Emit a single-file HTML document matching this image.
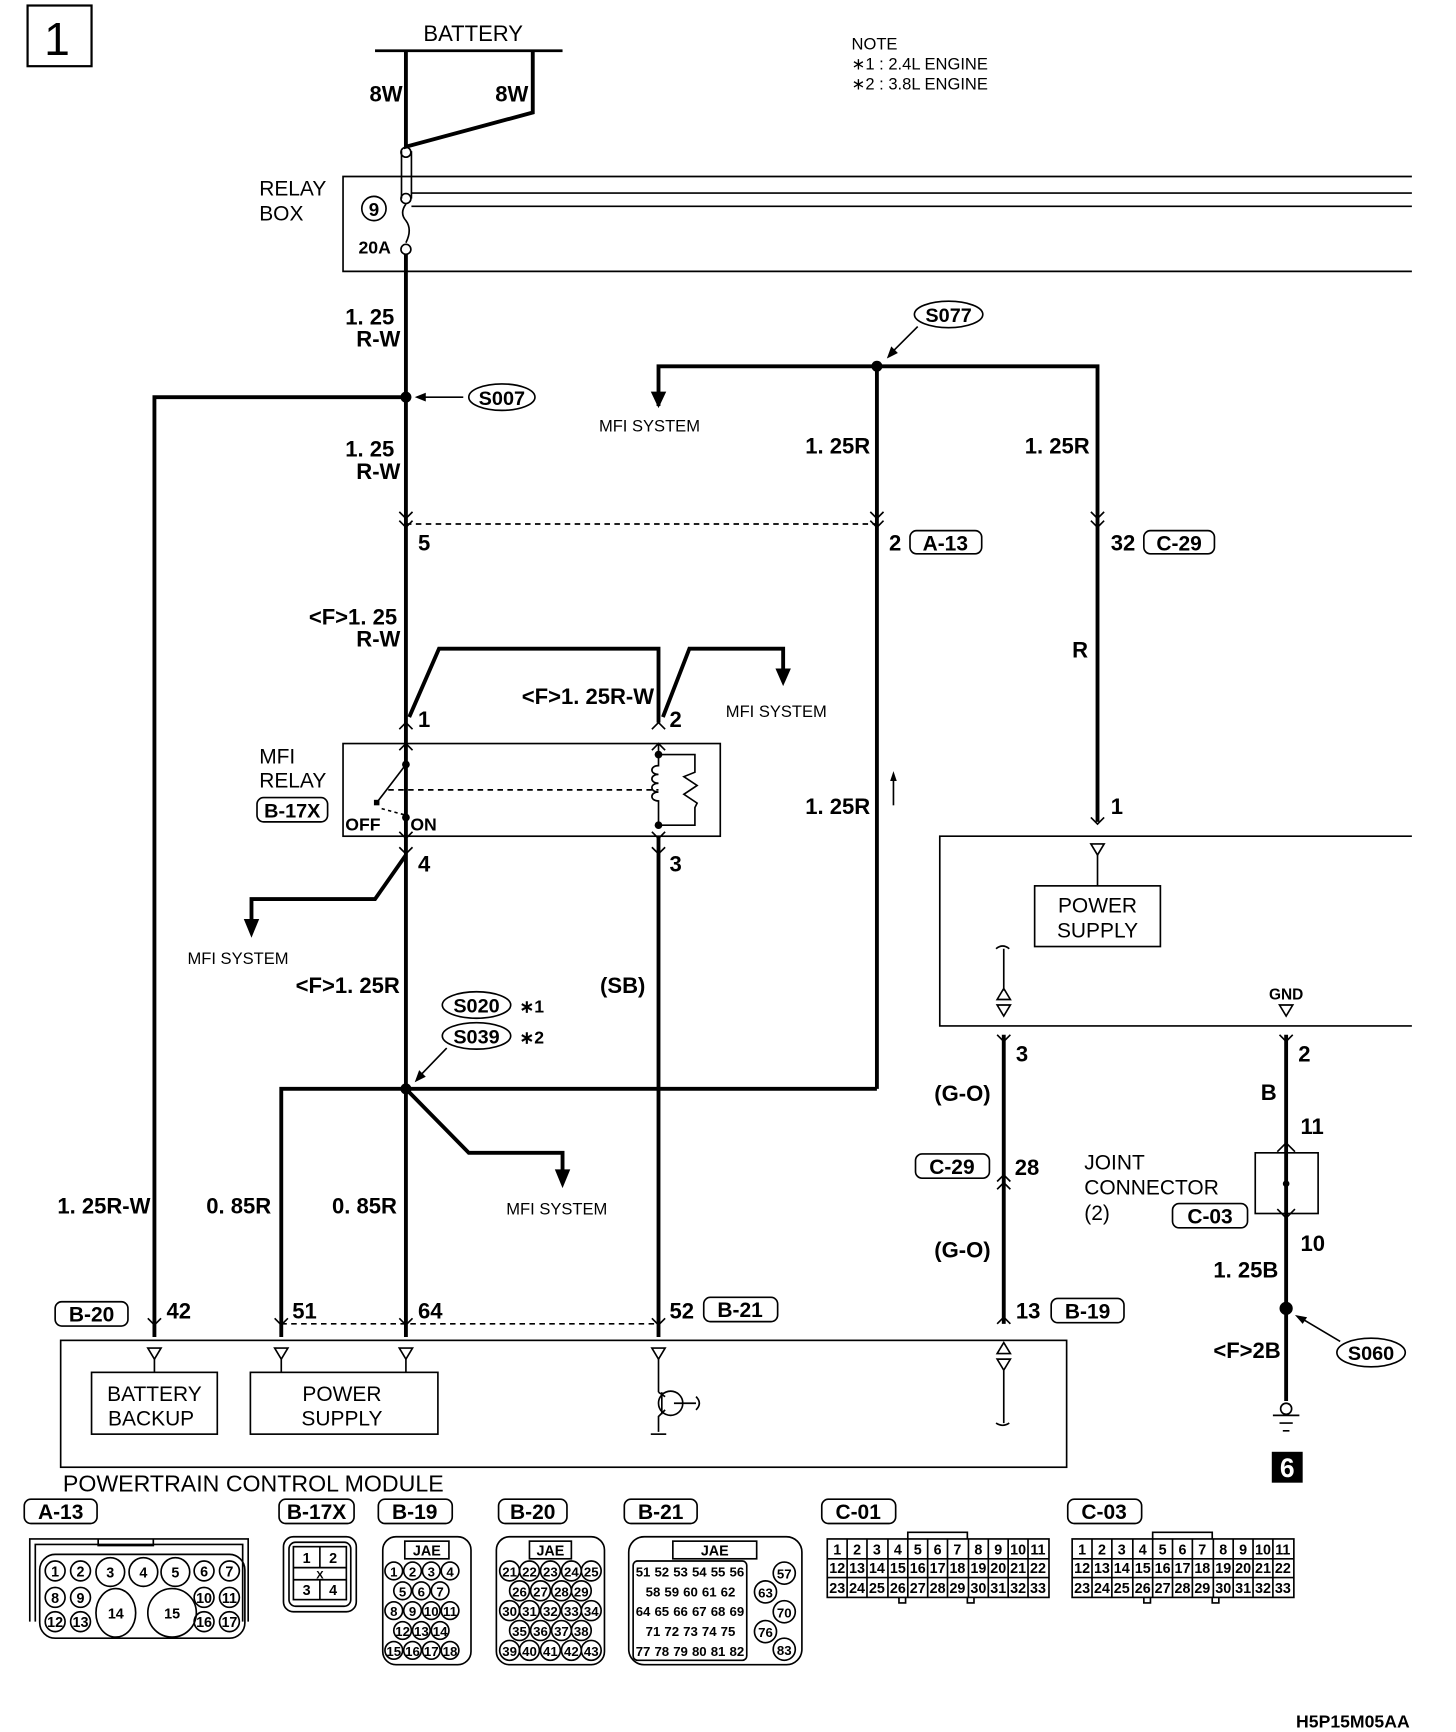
<!DOCTYPE html>
<html><head><meta charset="utf-8"><style>
html,body{margin:0;padding:0;background:#fff;}
svg{display:block;}
text{font-family:"Liberation Sans",sans-serif;fill:#000;}
.b{font-weight:bold;font-size:20px;}
.n{font-size:19px;}
.s{font-size:15px;}
.t{stroke:#000;stroke-width:3.5;fill:none;}
.l{stroke:#000;stroke-width:1.5;fill:none;}
.c{font-weight:bold;font-size:13px;text-anchor:middle;}
</style></head><body>
<svg width="1456" height="1732" viewBox="0 0 1320 1570" preserveAspectRatio="none" xmlns="http://www.w3.org/2000/svg">
<!-- header -->
<rect x="25" y="5" width="58" height="55" class="l" style="stroke-width:2"/>
<text x="40" y="50" font-size="42">1</text>
<text x="429" y="37" font-size="20" text-anchor="middle">BATTERY</text>
<line x1="340" y1="46" x2="510" y2="46" class="l" style="stroke-width:2.5"/>
<text x="772" y="45" class="s">NOTE</text>
<text x="772" y="63" class="s">∗1 : 2.4L ENGINE</text>
<text x="772" y="81" class="s">∗2 : 3.8L ENGINE</text>
<polyline points="368,46 368,133 483,102 483,46" class="t"/>
<text x="335" y="92" class="b">8W</text>
<text x="449" y="92" class="b">8W</text>
<!-- relay box -->
<line x1="364" y1="137" x2="364" y2="180" class="l"/><line x1="373" y1="137" x2="373" y2="180" class="l"/>
<circle cx="368" cy="138" r="4.5" fill="#fff" class="l"/>
<circle cx="368" cy="180" r="4.5" fill="#fff" class="l"/>
<circle cx="368" cy="226" r="4.5" fill="#fff" class="l"/>
<path d="M368,185 q-6,8 0,15 q6,8 0,20" class="l"/>
<polyline points="1280,160 311,160 311,246 1280,246" class="l"/>
<line x1="373" y1="175" x2="1280" y2="175" class="l"/>
<line x1="373" y1="187" x2="1280" y2="187" class="l"/>
<text x="235" y="177" class="n">RELAY</text><text x="235" y="200" class="n">BOX</text>
<circle cx="339" cy="189" r="11" class="l"/><text x="339" y="196" class="c" style="font-size:17px">9</text>
<text x="325" y="230" class="b" style="font-size:16px">20A</text>
<!-- main vertical -->
<line x1="368" y1="230" x2="368" y2="1212" class="t"/>
<text x="313" y="294" class="b">1. 25</text><text x="323" y="314" class="b">R-W</text>
<circle cx="368" cy="360" r="5"/>
<polyline points="140,1212 140,360 368,360" class="t"/>
<line x1="420" y1="360" x2="378" y2="360" class="l"/><polygon points="376,360 386,356 386,364"/>
<ellipse cx="455" cy="360" rx="30" ry="12" class="l"/><text x="455" y="367" class="c" style="font-size:18px">S007</text>
<text x="313" y="414" class="b">1. 25</text><text x="323" y="434" class="b">R-W</text>
<!-- S077 -->
<polyline points="597,368 597,332 995,332 995,745" class="t"/>
<polygon points="590,355 604,355 597,370"/>
<line x1="795" y1="332" x2="795" y2="987" class="t"/>
<circle cx="795" cy="332" r="5"/>
<ellipse cx="860" cy="285" rx="31" ry="12" class="l"/><text x="860" y="292" class="c" style="font-size:18px">S077</text>
<line x1="832" y1="296" x2="806" y2="322" class="l"/><polygon points="804,325 808,314 814,320"/>
<text x="543" y="391" class="s">MFI SYSTEM</text>
<text x="730" y="411" class="b">1. 25R</text><text x="929" y="411" class="b">1. 25R</text>
<!-- connector at 475 -->
<line x1="368" y1="475" x2="795" y2="475" class="l" stroke-dasharray="5,4"/>
<path d="M362,464 l6,6 l6,-6 M362,472 l6,6 l6,-6 M789,464 l6,6 l6,-6 M789,472 l6,6 l6,-6 M989,464 l6,6 l6,-6 M989,472 l6,6 l6,-6" class="l"/>
<text x="379" y="499" class="b">5</text>
<text x="806" y="499" class="b">2</text>
<rect x="825" y="481" width="65" height="21" rx="6" class="l"/><text x="857" y="499" class="c" style="font-size:19px">A-13</text>
<text x="1007" y="499" class="b">32</text>
<rect x="1037" y="481" width="64" height="21" rx="6" class="l"/><text x="1069" y="499" class="c" style="font-size:19px">C-29</text>
<text x="972" y="596" class="b">R</text>
<!-- MFI relay -->
<text x="280" y="566" class="b">&lt;F&gt;1. 25</text><text x="323" y="586" class="b">R-W</text>
<polyline points="371,650 398,588 597,588 597,655" class="t"/>
<polyline points="601,650 625,588 710,588 710,608" class="t"/>
<polygon points="703,606 717,606 710,622"/>
<text x="658" y="650" class="s">MFI SYSTEM</text>
<text x="473" y="638" class="b">&lt;F&gt;1. 25R-W</text>
<text x="379" y="659" class="b">1</text><text x="607" y="659" class="b">2</text>
<path d="M362,661 l6,-6 l6,6 M362,680 l6,-6 l6,6 M591,661 l6,-6 l6,6 M591,680 l6,-6 l6,6 M362,754 l6,6 l6,-6 M362,768 l6,6 l6,-6 M591,754 l6,6 l6,-6 M591,768 l6,6 l6,-6" class="l"/>
<rect x="311" y="674" width="342" height="84" class="l"/>
<text x="235" y="692" class="n">MFI</text><text x="235" y="714" class="n">RELAY</text>
<rect x="233" y="723" width="64" height="22" rx="6" class="l"/><text x="265" y="741" class="c" style="font-size:18px">B-17X</text>
<rect x="330" y="674" width="76" height="20" fill="#fff" stroke="none" opacity="0"/>
<line x1="368" y1="674" x2="368" y2="693" class="l" style="fill:none"/>
<circle cx="368" cy="693" r="3.5"/><line x1="368" y1="693" x2="342" y2="727" class="l"/>
<rect x="339" y="725" width="5" height="5"/>
<line x1="352" y1="716" x2="597" y2="716" class="l" stroke-dasharray="5,4"/>
<path d="M346,733 l22,6" class="l" stroke-dasharray="3,3"/><circle cx="368" cy="741" r="3.5"/>
<line x1="368" y1="741" x2="368" y2="760" class="l"/>
<text x="313" y="753" class="b" style="font-size:16px">OFF</text><text x="372" y="753" class="b" style="font-size:16px">ON</text>
<line x1="597" y1="674" x2="597" y2="684" class="l"/>
<circle cx="597" cy="684" r="3.5"/><circle cx="597" cy="748" r="3.5"/>
<path d="M597,684 v10 c-8,0 -8,8 0,8 c-8,0 -8,8 0,8 c-8,0 -8,8 0,8 c-8,0 -8,8 0,8 v22 M597,758" class="l"/>
<polyline points="597,684 630,684 630,700 620,704 632,712 620,720 632,728 630,732 630,748 597,748" class="l"/>
<text x="379" y="790" class="b">4</text><text x="607" y="790" class="b">3</text>
<polyline points="368,775 340,815 228,815 228,835" class="t"/>
<polygon points="221,833 235,833 228,850"/>
<text x="170" y="874" class="s">MFI SYSTEM</text>
<line x1="597" y1="758" x2="597" y2="1212" class="t"/>
<text x="730" y="738" class="b">1. 25R</text>
<line x1="810" y1="730" x2="810" y2="702" class="l"/><polygon points="810,699 807,708 813,708"/>
<text x="544" y="900" class="b">(SB)</text>
<text x="268" y="900" class="b">&lt;F&gt;1. 25R</text>
<ellipse cx="432" cy="911" rx="31" ry="12" class="l"/><text x="432" y="918" class="c" style="font-size:18px">S020</text>
<text x="471" y="918" class="b" style="font-size:16px">∗1</text>
<ellipse cx="432" cy="939" rx="31" ry="12" class="l"/><text x="432" y="946" class="c" style="font-size:18px">S039</text>
<text x="471" y="946" class="b" style="font-size:16px">∗2</text>
<line x1="405" y1="950" x2="378" y2="978" class="l"/><polygon points="376,981 380,970 386,976"/>
<circle cx="368" cy="987" r="5"/>
<polyline points="255,1212 255,987 795,987" class="t"/>
<polyline points="368,987 425,1045 510,1045 510,1062" class="t"/>
<polygon points="503,1060 517,1060 510,1077"/>
<text x="459" y="1101" class="s">MFI SYSTEM</text>
<text x="52" y="1100" class="b">1. 25R-W</text>
<text x="187" y="1100" class="b">0. 85R</text>
<text x="301" y="1100" class="b">0. 85R</text>
<!-- PCM connector -->
<line x1="255" y1="1200" x2="597" y2="1200" class="l" stroke-dasharray="5,4"/>
<path d="M134,1195 l6,6 l6,-6 M249,1195 l6,6 l6,-6 M362,1195 l6,6 l6,-6 M591,1195 l6,6 l6,-6" class="l"/>
<rect x="50" y="1180" width="66" height="22" rx="6" class="l"/><text x="83" y="1198" class="c" style="font-size:19px">B-20</text>
<text x="151" y="1195" class="b">42</text><text x="265" y="1195" class="b">51</text><text x="379" y="1195" class="b">64</text><text x="607" y="1195" class="b">52</text>
<rect x="638" y="1176" width="67" height="22" rx="6" class="l"/><text x="671" y="1194" class="c" style="font-size:19px">B-21</text>
<rect x="55" y="1215" width="912" height="115" class="l"/>
<path d="M134,1222 h12 l-6,10 z M249,1222 h12 l-6,10 z M362,1222 h12 l-6,10 z M591,1222 h12 l-6,10 z" class="l"/>
<line x1="140" y1="1232" x2="140" y2="1244" class="l"/><line x1="255" y1="1232" x2="255" y2="1244" class="l"/><line x1="368" y1="1232" x2="368" y2="1244" class="l"/>
<rect x="83" y="1244" width="114" height="56" class="l"/>
<text x="140" y="1270" class="n" text-anchor="middle">BATTERY</text><text x="137" y="1292" class="n" text-anchor="middle">BACKUP</text>
<rect x="227" y="1244" width="170" height="56" class="l"/>
<text x="310" y="1270" class="n" text-anchor="middle">POWER</text><text x="310" y="1292" class="n" text-anchor="middle">SUPPLY</text>
<line x1="597" y1="1232" x2="597" y2="1262" class="l"/>
<circle cx="608" cy="1272" r="11" class="l"/>
<line x1="600" y1="1262" x2="600" y2="1282" class="l"/>
<path d="M597,1262 l6,4 M603,1278 l-6,6 v14 M611,1272 h20 M631,1266 q6,6 0,12" class="l"/>
<path d="M590,1300 h14" class="l"/>
<text x="57" y="1352" font-size="21">POWERTRAIN CONTROL MODULE</text>
<!-- right module -->
<polyline points="1280,758 852,758 852,930 1280,930" class="l"/>
<path d="M989,741 l6,6 l6,-6 M989,765 h12 l-6,10 z" class="l"/>
<text x="1007" y="738" class="b">1</text>
<line x1="995" y1="775" x2="995" y2="803" class="l"/>
<rect x="938" y="803" width="114" height="55" class="l"/>
<text x="995" y="827" class="n" text-anchor="middle">POWER</text><text x="995" y="850" class="n" text-anchor="middle">SUPPLY</text>
<path d="M903,860 q6,-5 12,0 M910,860 v38 M904,906 h12 l-6,-10 z M904,911 h12 l-6,10 z" class="l"/>
<text x="1166" y="906" class="c" style="font-size:14px">GND</text>
<path d="M1160,911 h12 l-6,10 z" class="l"/>
<line x1="910" y1="938" x2="910" y2="1200" class="t"/>
<path d="M904,938 l6,6 l6,-6 M904,1078 l6,-6 l6,6 M904,1071 l6,-6 l6,6 M904,1200 l6,-6 l6,6" class="l"/>
<text x="921" y="962" class="b">3</text>
<text x="847" y="998" class="b">(G-O)</text>
<rect x="830" y="1046" width="67" height="22" rx="6" class="l"/><text x="863" y="1064" class="c" style="font-size:19px">C-29</text>
<text x="920" y="1065" class="b">28</text>
<text x="847" y="1140" class="b">(G-O)</text>
<text x="921" y="1195" class="b">13</text>
<rect x="953" y="1177" width="66" height="22" rx="6" class="l"/><text x="986" y="1195" class="c" style="font-size:19px">B-19</text>
<path d="M904,1222 h12 l-6,-10 z M904,1227 h12 l-6,10 z M910,1237 v48 M903,1285 q6,4 12,0" class="l" transform="translate(0,5)"/>
<line x1="1166" y1="938" x2="1166" y2="1270" class="t"/>
<path d="M1160,938 l6,6 l6,-6 M1158,1044 l8,-8 l8,8 M1158,1096 l8,8 l8,-8" class="l"/>
<text x="1177" y="962" class="b">2</text>
<text x="1143" y="997" class="b">B</text>
<text x="1179" y="1028" class="b">11</text>
<rect x="1138" y="1045" width="57" height="55" class="l" fill="#fff"/>
<line x1="1166" y1="1040" x2="1166" y2="1100" class="l"/><circle cx="1166" cy="1073" r="3"/>
<text x="983" y="1060" class="n">JOINT</text><text x="983" y="1083" class="n">CONNECTOR</text><text x="983" y="1106" class="n">(2)</text>
<rect x="1063" y="1091" width="68" height="22" rx="6" class="l"/><text x="1097" y="1109" class="c" style="font-size:19px">C-03</text>
<text x="1179" y="1134" class="b">10</text>
<text x="1100" y="1158" class="b">1. 25B</text>
<circle cx="1166" cy="1186" r="6"/>
<line x1="1178" y1="1194" x2="1215" y2="1216" class="l"/><polygon points="1174,1192 1185,1194 1181,1200"/>
<ellipse cx="1243" cy="1226" rx="31" ry="13" class="l"/><text x="1243" y="1233" class="c" style="font-size:18px">S060</text>
<text x="1100" y="1231" class="b">&lt;F&gt;2B</text>
<circle cx="1166" cy="1277" r="5" class="l" fill="#fff"/>
<path d="M1154,1283 h24 M1160,1290 h12 M1163,1297 h6" class="l"/>
<rect x="1153" y="1316" width="28" height="28"/><text x="1167" y="1339" font-size="24" font-weight="bold" text-anchor="middle" style="fill:#fff">6</text>
<!-- bottom connector labels -->
<g style="font-weight:bold;font-size:19px;text-anchor:middle">
<rect x="22" y="1359" width="66" height="22" rx="6" class="l"/><text x="55" y="1377">A-13</text>
<rect x="253" y="1359" width="68" height="22" rx="6" class="l"/><text x="287" y="1377">B-17X</text>
<rect x="343" y="1359" width="67" height="22" rx="6" class="l"/><text x="376" y="1377">B-19</text>
<rect x="452" y="1359" width="62" height="22" rx="6" class="l"/><text x="483" y="1377">B-20</text>
<rect x="566" y="1359" width="66" height="22" rx="6" class="l"/><text x="599" y="1377">B-21</text>
<rect x="745" y="1359" width="67" height="22" rx="6" class="l"/><text x="778" y="1377">C-01</text>
<rect x="968" y="1359" width="67" height="22" rx="6" class="l"/><text x="1001" y="1377">C-03</text>
</g>
<!-- A-13 -->
<path d="M27,1470 V1395 H225 V1470 M32,1470 V1400 H220 V1470 M89,1395 v6 h50 v-6" class="l"/>
<rect x="36" y1="0" y="1409" width="186" height="76" rx="14" class="l"/>
<g class="l"><circle cx="50" cy="1424" r="9"/><circle cx="73" cy="1424" r="9"/><circle cx="100" cy="1425" r="13"/><circle cx="130" cy="1425" r="13"/><circle cx="159" cy="1425" r="13"/><circle cx="185" cy="1424" r="9"/><circle cx="208" cy="1424" r="9"/>
<circle cx="50" cy="1448" r="9"/><circle cx="73" cy="1448" r="9"/><circle cx="185" cy="1448" r="9"/><circle cx="208" cy="1448" r="9"/>
<circle cx="50" cy="1470" r="9"/><circle cx="73" cy="1470" r="9"/><circle cx="185" cy="1470" r="9"/><circle cx="208" cy="1470" r="9"/>
<ellipse cx="105" cy="1462" rx="18" ry="22"/><ellipse cx="156" cy="1462" rx="22" ry="22"/></g>
<g class="c"><text x="50" y="1429">1</text><text x="73" y="1429">2</text><text x="100" y="1430">3</text><text x="130" y="1430">4</text><text x="159" y="1430">5</text><text x="185" y="1429">6</text><text x="208" y="1429">7</text>
<text x="50" y="1453">8</text><text x="73" y="1453">9</text><text x="185" y="1453">10</text><text x="208" y="1453">11</text>
<text x="50" y="1475">12</text><text x="73" y="1475">13</text><text x="185" y="1475">16</text><text x="208" y="1475">17</text>
<text x="105" y="1467">14</text><text x="156" y="1467">15</text></g>
<!-- B-17X -->
<rect x="257" y="1393" width="66" height="68" rx="9" class="l"/><rect x="262" y="1398" width="56" height="58" rx="6" class="l"/>
<rect x="266" y="1402" width="48" height="48" class="l"/><line x1="266" y1="1421" x2="314" y2="1421" class="l"/><line x1="266" y1="1432" x2="314" y2="1432" class="l"/><line x1="290" y1="1402" x2="290" y2="1421" class="l"/><line x1="290" y1="1432" x2="290" y2="1450" class="l"/>
<g class="c"><text x="278" y="1417">1</text><text x="302" y="1417">2</text><text x="290" y="1431" style="font-size:10px">X</text><text x="278" y="1446">3</text><text x="302" y="1446">4</text></g>
<!-- B-19 -->
<rect x="347" y="1393" width="80" height="116" rx="12" class="l"/><rect x="367" y="1397" width="40" height="16" class="l"/><text x="387" y="1410" class="c">JAE</text>
<g class="l"><circle cx="357" cy="1424" r="8"/><circle cx="374" cy="1424" r="8"/><circle cx="391" cy="1424" r="8"/><circle cx="408" cy="1424" r="8"/>
<circle cx="365" cy="1442" r="8"/><circle cx="382" cy="1442" r="8"/><circle cx="399" cy="1442" r="8"/>
<circle cx="357" cy="1460" r="8"/><circle cx="374" cy="1460" r="8"/><circle cx="391" cy="1460" r="8"/><circle cx="408" cy="1460" r="8"/>
<circle cx="365" cy="1478" r="8"/><circle cx="382" cy="1478" r="8"/><circle cx="399" cy="1478" r="8"/>
<circle cx="357" cy="1496" r="8"/><circle cx="374" cy="1496" r="8"/><circle cx="391" cy="1496" r="8"/><circle cx="408" cy="1496" r="8"/></g>
<g class="c" style="font-size:12px"><text x="357" y="1429">1</text><text x="374" y="1429">2</text><text x="391" y="1429">3</text><text x="408" y="1429">4</text><text x="365" y="1447">5</text><text x="382" y="1447">6</text><text x="399" y="1447">7</text><text x="357" y="1465">8</text><text x="374" y="1465">9</text><text x="391" y="1465">10</text><text x="408" y="1465">11</text><text x="365" y="1483">12</text><text x="382" y="1483">13</text><text x="399" y="1483">14</text><text x="357" y="1501">15</text><text x="374" y="1501">16</text><text x="391" y="1501">17</text><text x="408" y="1501">18</text></g>
<!-- B-20 -->
<rect x="450" y="1393" width="98" height="116" rx="12" class="l"/><rect x="480" y="1397" width="38" height="16" class="l"/><text x="499" y="1410" class="c">JAE</text>
<g class="c" style="font-size:12px">
<text x="462" y="1429">21</text><text x="480" y="1429">22</text><text x="499" y="1429">23</text><text x="518" y="1429">24</text><text x="536" y="1429">25</text>
<text x="471" y="1447">26</text><text x="490" y="1447">27</text><text x="509" y="1447">28</text><text x="527" y="1447">29</text>
<text x="462" y="1465">30</text><text x="480" y="1465">31</text><text x="499" y="1465">32</text><text x="518" y="1465">33</text><text x="536" y="1465">34</text>
<text x="471" y="1483">35</text><text x="490" y="1483">36</text><text x="509" y="1483">37</text><text x="527" y="1483">38</text>
<text x="462" y="1501">39</text><text x="480" y="1501">40</text><text x="499" y="1501">41</text><text x="518" y="1501">42</text><text x="536" y="1501">43</text></g>
<g class="l"><circle cx="462" cy="1424" r="9"/><circle cx="480" cy="1424" r="9"/><circle cx="499" cy="1424" r="9"/><circle cx="518" cy="1424" r="9"/><circle cx="536" cy="1424" r="9"/>
<circle cx="471" cy="1442" r="9"/><circle cx="490" cy="1442" r="9"/><circle cx="509" cy="1442" r="9"/><circle cx="527" cy="1442" r="9"/>
<circle cx="462" cy="1460" r="9"/><circle cx="480" cy="1460" r="9"/><circle cx="499" cy="1460" r="9"/><circle cx="518" cy="1460" r="9"/><circle cx="536" cy="1460" r="9"/>
<circle cx="471" cy="1478" r="9"/><circle cx="490" cy="1478" r="9"/><circle cx="509" cy="1478" r="9"/><circle cx="527" cy="1478" r="9"/>
<circle cx="462" cy="1496" r="9"/><circle cx="480" cy="1496" r="9"/><circle cx="499" cy="1496" r="9"/><circle cx="518" cy="1496" r="9"/><circle cx="536" cy="1496" r="9"/></g>
<!-- B-21 -->
<rect x="570" y="1393" width="157" height="116" rx="14" class="l"/><rect x="610" y="1397" width="76" height="16" class="l"/><text x="648" y="1410" class="c">JAE</text>
<g class="c" style="font-size:12px">
<text x="583" y="1429">51</text><text x="600" y="1429">52</text><text x="617" y="1429">53</text><text x="634" y="1429">54</text><text x="651" y="1429">55</text><text x="668" y="1429">56</text><text x="711" y="1431">57</text>
<text x="592" y="1447">58</text><text x="609" y="1447">59</text><text x="626" y="1447">60</text><text x="643" y="1447">61</text><text x="660" y="1447">62</text><text x="694" y="1448">63</text>
<text x="583" y="1465">64</text><text x="600" y="1465">65</text><text x="617" y="1465">66</text><text x="634" y="1465">67</text><text x="651" y="1465">68</text><text x="668" y="1465">69</text><text x="711" y="1466">70</text>
<text x="592" y="1483">71</text><text x="609" y="1483">72</text><text x="626" y="1483">73</text><text x="643" y="1483">74</text><text x="660" y="1483">75</text><text x="694" y="1484">76</text>
<text x="583" y="1501">77</text><text x="600" y="1501">78</text><text x="617" y="1501">79</text><text x="634" y="1501">80</text><text x="651" y="1501">81</text><text x="668" y="1501">82</text><text x="711" y="1500">83</text></g>
<g class="l"><circle cx="711" cy="1426" r="10"/><circle cx="694" cy="1443" r="10"/><circle cx="711" cy="1461" r="10"/><circle cx="694" cy="1479" r="10"/><circle cx="711" cy="1495" r="10"/>
<rect x="574" y="1415" width="103" height="90" rx="4"/></g>
<!-- C-01 / C-03 grids -->
<g id="grid" class="l">
<rect x="750" y="1395" width="201" height="53"/>
<path d="M750,1413 H951 M750,1430 H951 M768,1395 v53 M786,1395 v53 M805,1395 v53 M823,1395 v53 M841,1395 v53 M859,1395 v53 M878,1395 v53 M896,1395 v53 M914,1395 v53 M932,1395 v53 M823,1395 v-6 h54 v6 M815,1448 v5 h6 v-5 M877,1448 v5 h6 v-5"/>
</g>
<g class="c" style="font-size:13px">
<text x="759" y="1409">1</text><text x="777" y="1409">2</text><text x="795" y="1409">3</text><text x="814" y="1409">4</text><text x="832" y="1409">5</text><text x="850" y="1409">6</text><text x="868" y="1409">7</text><text x="887" y="1409">8</text><text x="905" y="1409">9</text><text x="923" y="1409">10</text><text x="941" y="1409">11</text>
<text x="759" y="1426">12</text><text x="777" y="1426">13</text><text x="795" y="1426">14</text><text x="814" y="1426">15</text><text x="832" y="1426">16</text><text x="850" y="1426">17</text><text x="868" y="1426">18</text><text x="887" y="1426">19</text><text x="905" y="1426">20</text><text x="923" y="1426">21</text><text x="941" y="1426">22</text>
<text x="759" y="1444">23</text><text x="777" y="1444">24</text><text x="795" y="1444">25</text><text x="814" y="1444">26</text><text x="832" y="1444">27</text><text x="850" y="1444">28</text><text x="868" y="1444">29</text><text x="887" y="1444">30</text><text x="905" y="1444">31</text><text x="923" y="1444">32</text><text x="941" y="1444">33</text>
</g>
<g transform="translate(222,0)">
<g class="l">
<rect x="750" y="1395" width="201" height="53"/>
<path d="M750,1413 H951 M750,1430 H951 M768,1395 v53 M786,1395 v53 M805,1395 v53 M823,1395 v53 M841,1395 v53 M859,1395 v53 M878,1395 v53 M896,1395 v53 M914,1395 v53 M932,1395 v53 M823,1395 v-6 h54 v6 M815,1448 v5 h6 v-5 M877,1448 v5 h6 v-5"/>
</g>
<g class="c" style="font-size:13px">
<text x="759" y="1409">1</text><text x="777" y="1409">2</text><text x="795" y="1409">3</text><text x="814" y="1409">4</text><text x="832" y="1409">5</text><text x="850" y="1409">6</text><text x="868" y="1409">7</text><text x="887" y="1409">8</text><text x="905" y="1409">9</text><text x="923" y="1409">10</text><text x="941" y="1409">11</text>
<text x="759" y="1426">12</text><text x="777" y="1426">13</text><text x="795" y="1426">14</text><text x="814" y="1426">15</text><text x="832" y="1426">16</text><text x="850" y="1426">17</text><text x="868" y="1426">18</text><text x="887" y="1426">19</text><text x="905" y="1426">20</text><text x="923" y="1426">21</text><text x="941" y="1426">22</text>
<text x="759" y="1444">23</text><text x="777" y="1444">24</text><text x="795" y="1444">25</text><text x="814" y="1444">26</text><text x="832" y="1444">27</text><text x="850" y="1444">28</text><text x="868" y="1444">29</text><text x="887" y="1444">30</text><text x="905" y="1444">31</text><text x="923" y="1444">32</text><text x="941" y="1444">33</text>
</g></g>
<text x="1175" y="1566" class="b" style="font-size:16px">H5P15M05AA</text>
</svg>
</body></html>
